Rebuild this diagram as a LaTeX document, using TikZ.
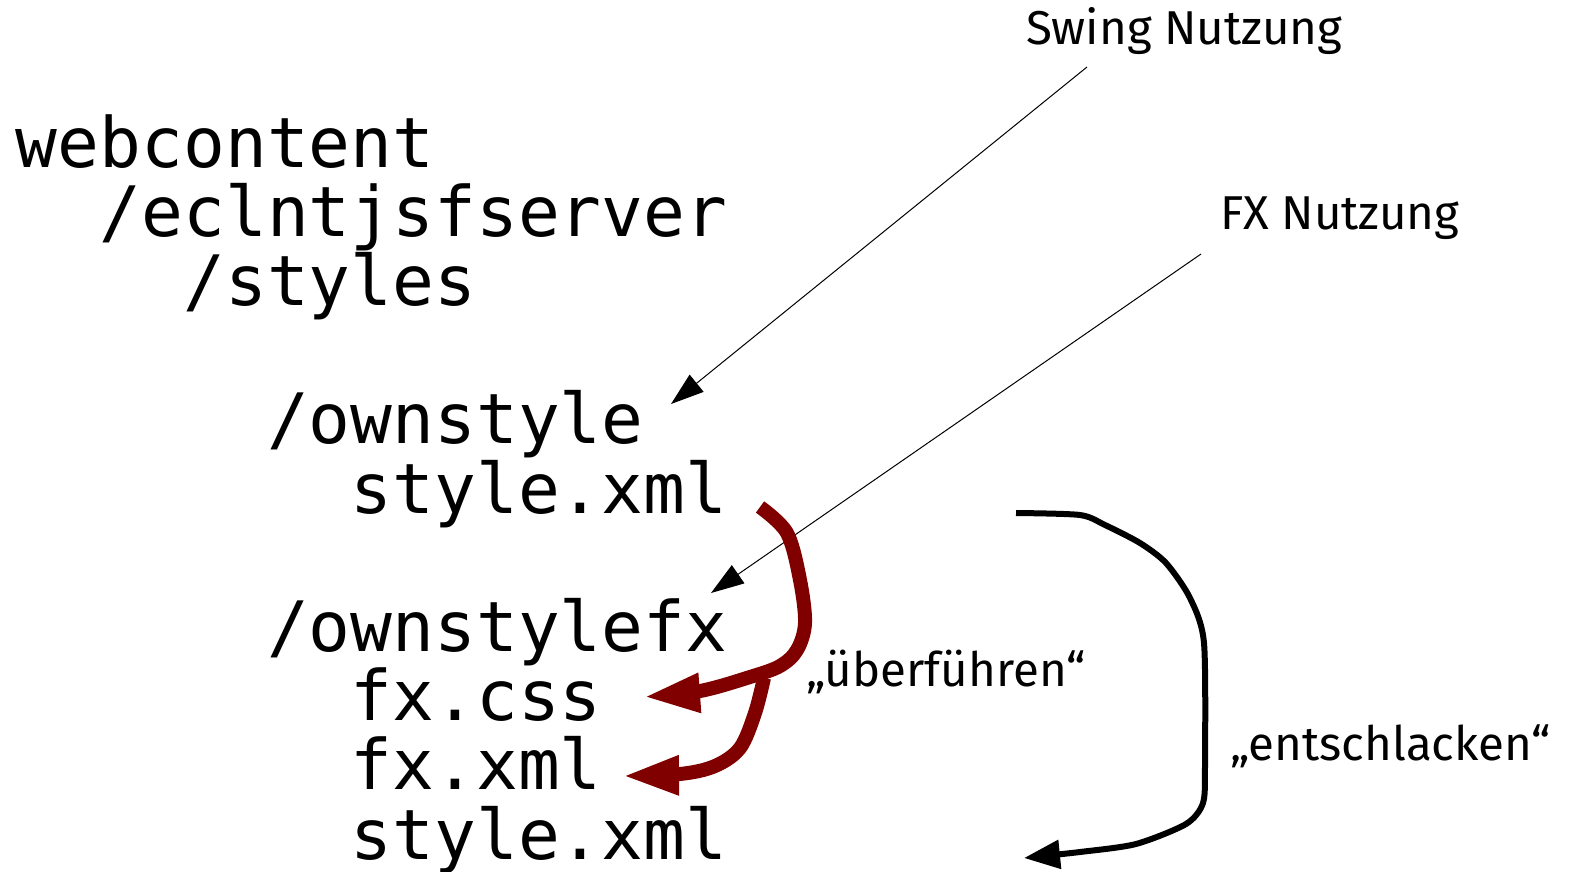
\documentclass[tikz,border=0pt]{standalone}
\usepackage{fontspec}
\usetikzlibrary{arrows.meta}
\newfontfamily\monofnt{DejaVu Sans Mono}
\newfontfamily\labfnt{Fira Sans}
\definecolor{darkred}{RGB}{128,0,0}
\begin{document}
\begin{tikzpicture}[x=1pt,y=-1pt,
  code/.style={font=\monofnt\fontsize{69.5}{70}\selectfont, anchor=base west, inner sep=0pt, outer sep=0pt},
  lab/.style={font=\labfnt\fontsize{47.5}{50}\selectfont, anchor=base west, inner sep=0pt, outer sep=0pt},
  pointer/.style={line width=1pt, -{Triangle[length=33pt,width=22pt]}},
  redflow/.style={draw=darkred, line width=14pt, line join=round, -{Triangle[length=57pt,width=36pt]}},
  blackflow/.style={draw=black, line width=6pt, line join=round, -{Triangle[length=36pt,width=28pt]}}]
\useasboundingbox (0,0) rectangle (1576,872);
% code listing
\def\cw{41.84}
\node[code] (l1) at (16,167) {webcontent};
\node[code] (l2) at (16+2*\cw,236.2) {/eclntjsfserver};
\node[code] (l3) at (16+4*\cw,305.4) {/styles};
\node[code] (l4) at (16+6*\cw,443.8) {/ownstyle};
\node[code] (l5) at (16+8*\cw,513) {style.xml};
\node[code] (l6) at (16+6*\cw,651.4) {/ownstylefx};
\node[code] (l7) at (16+8*\cw,720.6) {fx.css};
\node[code] (l8) at (16+8*\cw,789.8) {fx.xml};
\node[code] (l9) at (16+8*\cw,859) {style.xml};
% labels
\node[lab] (swing) at (1026,45) {Swing Nutzung};
\node[lab] (fx) at (1220,229) {FX Nutzung};
\node[lab] (ueber) at (806,686) {„überführen“};
\node[lab] (ent) at (1230,760) {„entschlacken“};
% pointer arrows
\coordinate (swingstart) at (1087,67);
\coordinate (swingtip) at (671,404);
\coordinate (fxstart) at (1201,254);
\coordinate (fxtip) at (711,593);
\draw[pointer] (swingstart) -- (swingtip);
\draw[pointer] (fxstart) -- (fxtip);
% red transfer arrows
\coordinate (rstart) at (760,507);
\coordinate (rbranch) at (764,678);
\coordinate (rtipA) at (643,697);
\coordinate (rtipB) at (622,776);
\draw[redflow] plot[smooth, tension=0.55] coordinates {(rbranch) (755,713) (740,748) (715,766) (680,774) (rtipB)};
\draw[redflow] plot[smooth, tension=0.55] coordinates {(rstart) (787,533) (800,580) (805,623) (797,650) (780,666) (750,677) (700,691) (rtipA)};
% black arrow
\coordinate (bstart) at (1016,513);
\coordinate (btip) at (1024,858);
\draw[blackflow] plot[smooth, tension=0.45] coordinates {(bstart) (1080,515) (1105,525) (1140,543) (1166,563) (1190,598) (1204,643) (1205,764) (1203,803) (1186,824) (1136,844) (1080,852) (btip)};
\end{tikzpicture}
\end{document}
